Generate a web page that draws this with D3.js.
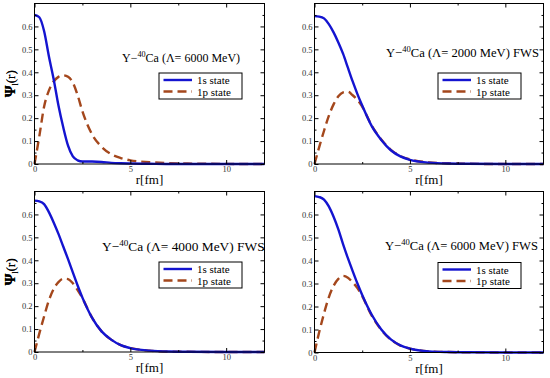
<!DOCTYPE html>
<html>
<head>
<meta charset="utf-8">
<script src="https://cdn.jsdelivr.net/npm/d3@7"></script>
<style>
  body { margin: 0; background: #fff; }
  svg text { font-family: "Liberation Serif", "DejaVu Serif", serif; }
</style>
</head>
<body>
<div id="chart"></div>
<script>
// radial grid (fm)
const rGrid = [0, 0.25, 0.5, 0.75, 1, 1.25, 1.5, 1.75, 2, 2.25, 2.5, 3, 3.5, 4, 4.5, 5, 6, 7, 8, 10, 12];

// wave functions
const psi1s_6000    = [0.65, 0.64, 0.58, 0.47, 0.37, 0.255, 0.16, 0.08, 0.033, 0.016, 0.011, 0.011, 0.009, 0.005, 0.003, 0.002, 0.001, 0, 0, 0, 0];
const psi1p_6000    = [0, 0.12, 0.25, 0.32, 0.36, 0.38, 0.387, 0.38, 0.355, 0.30, 0.23, 0.13, 0.075, 0.043, 0.026, 0.016, 0.008, 0.004, 0.002, 0.0005, 0];
const psi1s_2000fws = [0.645, 0.643, 0.635, 0.61, 0.574, 0.53, 0.48, 0.42, 0.36, 0.305, 0.255, 0.165, 0.105, 0.06, 0.033, 0.018, 0.006, 0.002, 0.001, 0, 0];
const psi1p_2000fws = [0, 0.075, 0.145, 0.21, 0.26, 0.295, 0.312, 0.315, 0.30, 0.28, 0.25, 0.167, 0.107, 0.062, 0.035, 0.02, 0.007, 0.003, 0.001, 0, 0];
const psi1s_4000fws = [0.66, 0.657, 0.645, 0.61, 0.565, 0.515, 0.46, 0.405, 0.347, 0.29, 0.237, 0.15, 0.09, 0.054, 0.03, 0.017, 0.006, 0.002, 0.001, 0, 0];
const psi1p_4000fws = [0, 0.08, 0.155, 0.225, 0.275, 0.305, 0.32, 0.318, 0.30, 0.27, 0.235, 0.15, 0.09, 0.054, 0.03, 0.017, 0.006, 0.002, 0.001, 0, 0];
const psi1s_6000fws = [0.68, 0.676, 0.665, 0.635, 0.59, 0.535, 0.47, 0.41, 0.354, 0.30, 0.25, 0.164, 0.10, 0.057, 0.031, 0.017, 0.005, 0.002, 0.001, 0, 0];
const psi1p_6000fws = [0, 0.09, 0.17, 0.24, 0.29, 0.32, 0.333, 0.325, 0.305, 0.28, 0.245, 0.16, 0.098, 0.056, 0.03, 0.017, 0.005, 0.002, 0.001, 0, 0];

const panelTitles = ["(Λ= 6000 MeV)", "(Λ= 2000 MeV) FWS", "(Λ= 4000 MeV) FWS", "(Λ= 6000 MeV) FWS"];
const legendLabels = ["1s state", "1p state"];
const xTicks = [0, 5, 10];
const xMinor = [2.5, 7.5];
const yTicks = [0, 0.1, 0.2, 0.3, 0.4, 0.5, 0.6];
const yMinor = [0.05, 0.15, 0.25, 0.35, 0.45, 0.55, 0.65];

const blue = "#1414d0";
const brown = "#a4471c";
const serif = "Liberation Serif, DejaVu Serif, serif";

// layout of the four panels
const panels = [
  { left: 34.5, right: 264.5, top: 3.5, bottom: 164, s: psi1s_6000, p: psi1p_6000, title: panelTitles[0], tx: 122, ty: 62, fs: 12, lx: 159, ly: 73 },
  { left: 314.5, right: 543.5, top: 3.5, bottom: 164, s: psi1s_2000fws, p: psi1p_2000fws, title: panelTitles[1], tx: 386, ty: 57, fs: 12.6, lx: 438, ly: 73 },
  { left: 34.5, right: 264.5, top: 191.5, bottom: 352, s: psi1s_4000fws, p: psi1p_4000fws, title: panelTitles[2], tx: 102, ty: 251, fs: 13.4, lx: 159, ly: 262 },
  { left: 314.5, right: 543.5, top: 191.5, bottom: 352.5, s: psi1s_6000fws, p: psi1p_6000fws, title: panelTitles[3], tx: 385, ty: 250, fs: 12.6, lx: 438, ly: 262.5 }
];

const svg = d3.select("#chart")
  .append("svg")
  .attr("width", 550)
  .attr("height", 378)
  .attr("font-family", serif)
  .style("display", "block");

panels.forEach(function (pn) {
  const x = d3.scaleLinear().domain([0, 12]).range([pn.left, pn.right]);
  const y = d3.scaleLinear().domain([0, 0.7]).range([pn.bottom, pn.top]);
  const g = svg.append("g");

  // curves
  const line = d3.line()
    .x((d, i) => x(rGrid[i]))
    .y(d => y(d))
    .curve(d3.curveMonotoneX);

  g.append("path")
    .datum(pn.p)
    .attr("fill", "none")
    .attr("stroke", brown)
    .attr("stroke-width", 2.4)
    .attr("stroke-dasharray", "9,5")
    .attr("d", line);

  g.append("path")
    .datum(pn.s)
    .attr("fill", "none")
    .attr("stroke", blue)
    .attr("stroke-width", 2.4)
    .attr("d", line);

  // axes, ticks inward on all four sides
  const styleAxis = function (sel) {
    sel.attr("font-family", serif).attr("font-size", 8.5);
    sel.select(".domain").remove();
    sel.selectAll("line").attr("stroke", "#000");
    sel.selectAll("text").attr("fill", "#333");
  };

  g.append("g")
    .attr("transform", `translate(0,${pn.bottom})`)
    .call(d3.axisBottom(x).tickValues(xTicks).tickSize(-4).tickPadding(2).tickFormat(d3.format("d")))
    .call(styleAxis);
  g.append("g")
    .attr("transform", `translate(0,${pn.bottom})`)
    .call(d3.axisBottom(x).tickValues(xMinor).tickSize(-2).tickFormat(""))
    .call(styleAxis);
  g.append("g")
    .attr("transform", `translate(0,${pn.top})`)
    .call(d3.axisTop(x).tickValues(xTicks).tickSize(-4).tickFormat(""))
    .call(styleAxis);
  g.append("g")
    .attr("transform", `translate(0,${pn.top})`)
    .call(d3.axisTop(x).tickValues(xMinor).tickSize(-2).tickFormat(""))
    .call(styleAxis);

  g.append("g")
    .attr("transform", `translate(${pn.left},0)`)
    .call(d3.axisLeft(y).tickValues(yTicks).tickSize(-4).tickPadding(2).tickFormat(d => d === 0 ? "0" : d3.format(".1f")(d)))
    .call(styleAxis);
  g.append("g")
    .attr("transform", `translate(${pn.left},0)`)
    .call(d3.axisLeft(y).tickValues(yMinor).tickSize(-2).tickFormat(""))
    .call(styleAxis);
  g.append("g")
    .attr("transform", `translate(${pn.right},0)`)
    .call(d3.axisRight(y).tickValues(yTicks).tickSize(-4).tickFormat(""))
    .call(styleAxis);
  g.append("g")
    .attr("transform", `translate(${pn.right},0)`)
    .call(d3.axisRight(y).tickValues(yMinor).tickSize(-2).tickFormat(""))
    .call(styleAxis);

  // frame
  g.append("rect")
    .attr("x", pn.left)
    .attr("y", pn.top)
    .attr("width", pn.right - pn.left)
    .attr("height", pn.bottom - pn.top)
    .attr("fill", "none")
    .attr("stroke", "#000")
    .attr("stroke-width", 1);

  // axis titles
  g.append("text")
    .attr("x", (pn.left + pn.right) / 2)
    .attr("y", pn.bottom + 20)
    .attr("text-anchor", "middle")
    .attr("font-size", 13)
    .text("r[fm]");

  const yl = g.append("text")
    .attr("transform", `translate(15,${(pn.top + pn.bottom) / 2}) rotate(-90)`)
    .attr("text-anchor", "middle")
    .attr("font-size", 13);
  yl.append("tspan").attr("font-weight", "bold").attr("font-size", 15).text("Ψ");
  yl.append("tspan").attr("dy", 3).attr("font-size", 8).text("l");
  yl.append("tspan").attr("dy", -3).text("(r)");

  // annotation
  const t = g.append("text")
    .attr("x", pn.tx)
    .attr("y", pn.ty)
    .attr("font-size", pn.fs);
  t.append("tspan").text("Y−");
  t.append("tspan").attr("dy", -5).attr("font-size", pn.fs * 0.68).text("40");
  t.append("tspan").attr("dy", 5).text("Ca " + pn.title);

  // legend
  g.append("rect")
    .attr("x", pn.lx)
    .attr("y", pn.ly)
    .attr("width", 83)
    .attr("height", 26)
    .attr("fill", "#fff")
    .attr("stroke", "#000")
    .attr("stroke-width", 1);

  legendLabels.forEach(function (lab, i) {
    const yy = pn.ly + 7 + i * 11.5;
    g.append("line")
      .attr("x1", pn.lx + 4.5)
      .attr("x2", pn.lx + 33)
      .attr("y1", yy)
      .attr("y2", yy)
      .attr("stroke", i === 0 ? blue : brown)
      .attr("stroke-width", 2.4)
      .attr("stroke-dasharray", i === 0 ? null : "9,5");
    g.append("text")
      .attr("x", pn.lx + 38)
      .attr("y", yy + 4)
      .attr("font-size", 11)
      .text(lab);
  });
});
</script>
</body>
</html>
